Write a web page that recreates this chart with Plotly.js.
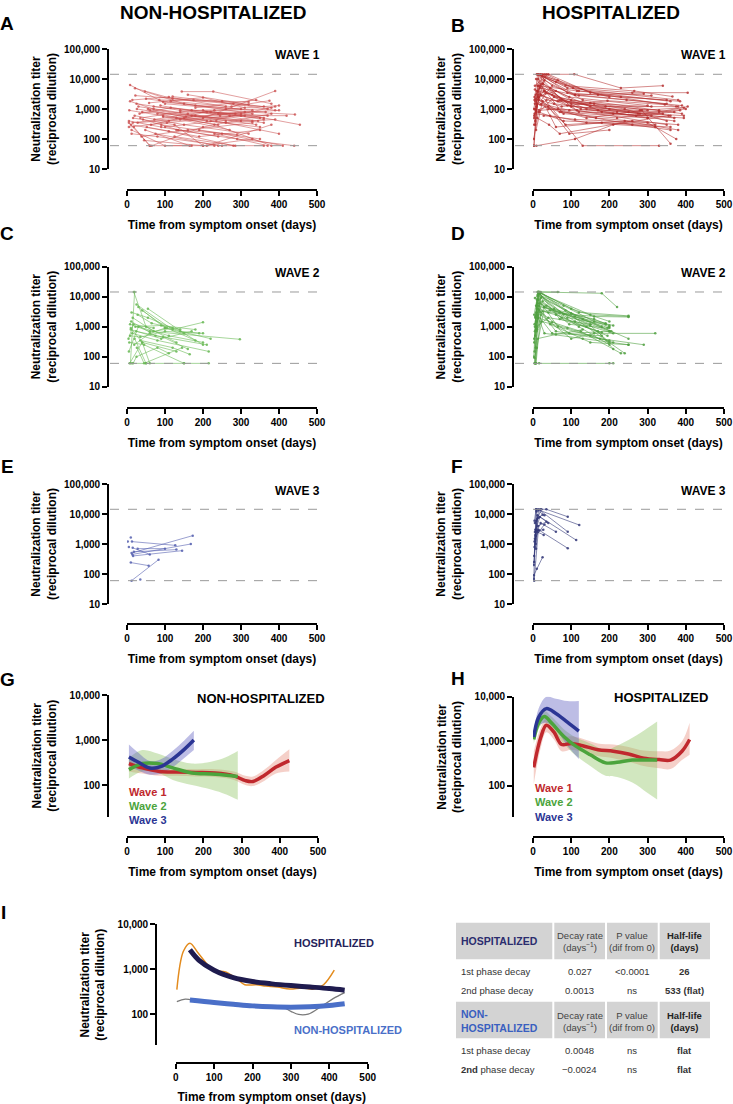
<!DOCTYPE html>
<html>
<head>
<meta charset="utf-8">
<script src="https://cdn.plot.ly/plotly-3.0.1.min.js"></script>
<style>body{margin:0;background:#fff}#graph{width:733px;height:1104px}</style>
</head>
<body>
<div id="graph"></div>
<script>
// patients : [jour, titre, jour, titre, ...]
var nonHospW1 = [
 [8,6300,95,1700,330,900],[21,4900,120,2200,360,1200],[47,3800,150,1500,330,700],[144,3800,227,3800,380,1500],
 [15,350,130,500,300,400],[10,300,110,180,280,60],[5,400,90,250,240,120],[12,200,100,60,230,60],
 [25,1500,140,900,350,500],[30,1200,160,700,340,300],[40,800,180,600,360,350],[20,600,150,300,320,150],
 [18,250,60,60,170,60],[55,1000,200,500,390,4000],[35,500,170,900,370,1000],[50,2200,180,1300,300,1000],
 [60,900,210,400,350,250],[70,1200,220,800,370,600],[80,700,230,300,380,60],[90,300,250,150,410,60],
 [100,1500,260,1000,400,1300],[110,400,270,600,420,600],[120,2600,280,1500,390,900],[130,200,290,100,440,60],
 [140,800,300,700,455,300],[150,500,310,800,442,660],[160,3000,320,1400],[170,600,330,400],
 [180,1100,340,2000],[190,200,350,100],[200,900,360,500],[210,60,380,300],[220,400,390,1200],
 [230,150,370,60],[240,700,400,900],[45,90,200,60,330,100],[65,60,200,250,380,700],[75,150,240,60,360,60],
 [85,2000,250,1800,380,1100],[95,550,260,350,390,450],[5,250,105,350,300,600],[8,1800,70,1000,260,400],
 [12,150,80,120,250,60],[28,350,140,450,270,200],[33,700,115,1100,310,600],[38,120,160,200,330,350],
 [42,450,135,200,290,140],[6,900,95,600,240,300],[22,2800,175,2000,320,1700],[52,250,190,120,350,200],
 [58,1600,200,2400,310,1100],[63,300,210,800,360,450],[16,500,125,300,200,60],[26,1000,155,550,285,700],
 [48,200,165,60],[72,450,230,900,365,800],[88,1300,245,600,345,400],[100,250,235,400,400,150],
 [115,1800,275,1200,375,1900],[125,120,285,60],[5,350,60,60],[14,2000,110,2500,260,1200]
];
var hospW1 = [
 [2,60,15,14350,110,3000,350,1500],[3,500,20,14350,90,5000,380,2000],[5,1000,25,14350,120,4000,360,1800],
 [4,2000,12,14350,60,8000,200,2500],[6,300,18,6000,100,1500,330,900],[8,800,30,14350,108,14350,230,5000,340,6000],
 [3,60,10,1500,70,800,300,500],[5,6000,40,14350,150,3500,380,1200],[7,3000,30,9000,130,2000,390,700],
 [9,1200,45,5000,95,2500,300,1300],[2,100,14,800,80,400,320,300],[10,4000,50,3000,140,1000,370,400],
 [4,2500,22,7000,115,900,350,300],[6,400,15,2500,85,300,240,400,380,200],[11,14350,75,2000,250,800,360,600],
 [13,10000,100,1200,280,900,395,1100],[3,600,35,14350,105,5000,260,3500,405,3500],[8,200,25,1800,60,250,180,350,360,250],
 [5,1500,28,4000,120,800,310,600,370,500],[12,6000,70,2000,200,1000,340,700],[15,2000,80,700,220,500,370,800],
 [20,14350,90,3500,230,2500,350,2000],[7,900,40,1200,95,150,200,200],[9,60,110,100,210,300,355,600],
 [14,3000,65,1800,190,1200,375,1200],[17,800,55,2500,150,1600,300,900],[3,300,12,4000,130,60,330,60],
 [24,12000,85,6000,265,4000,365,2600],[18,5000,120,2800,245,2000,390,1300],[10,14350,65,9000,170,3000,385,1800],
 [6,1800,33,3500,150,1200,280,700],[22,1500,95,900,210,700,395,500],[4,700,45,600,140,350,320,250],
 [8,10000,75,800,260,300,360,200],[12,2500,60,4000,180,800,300,500],[26,7000,100,2000,240,1000,350,400],
 [30,4000,125,1000,270,600,385,900],[14,14350,50,6000,110,3000,290,3200],[35,2000,160,1500,310,1200],
 [5,4500,55,1500,220,800,395,600],[16,900,65,1000,165,500,380,300],[2,1000,13,6000,115,4000,310,2800],
 [20,3000,90,1300,275,700,400,1000],[28,600,110,450,300,350,375,100],[40,1000,170,900,330,800,405,1200],
 [11,500,42,300,70,150,260,400],[19,1400,140,500,285,900,360,70],[7,2200,75,1200,195,1900,345,1400]
];
var nonHospW2 = [
 [18,14350,50,1000,130,300],[25,5500,120,800,200,1400],[30,4500,100,900,220,400],[55,4000,150,600,200,250],
 [8,1200,60,700,297,380],[10,800,90,400,170,700],[12,3000,55,2000,140,700,200,600],[15,2000,70,700,120,900],
 [5,150,30,1000,110,500,200,300],[7,60,40,300,130,150],[9,60,20,14350],[10,900,40,300,60,60],
 [14,600,80,350,215,150],[16,60,25,100,80,200,110,130],[20,400,50,60],[22,1000,90,1100,180,800],
 [6,300,45,250,150,60],[11,1500,75,500,210,250],[24,700,95,450,160,180],[28,2500,65,1300,140,800],
 [35,350,120,200,165,120],[13,60,50,60,150,60,215,60],[8,500,35,450,100,700,190,600],[19,250,60,600,100,900],
 [40,3500,105,900,180,350],[26,200,45,60,145,200],[4,400,17,1200,70,900]
];
var hospW2 = [
 [5,1000,14,14350,180,13000,220,4500],[3,300,12,14350,65,14350],[4,60,15,14350,120,3000,250,2300],
 [6,2000,16,14350,100,4000,200,1500],[8,5000,18,13000,150,2500,250,2200],[2,100,10,8000,90,2000,190,1200],
 [5,700,13,12000,80,5000,160,1500,200,1000],[7,200,20,9000,110,1500,210,600],[9,3000,22,10000,130,1800,250,400],
 [4,150,11,5000,70,3000,200,700],[6,60,17,14350,140,1000,240,130],[8,800,14,4000,60,700,200,350],
 [10,1500,25,7000,95,1200,195,900],[3,400,12,2500,50,600,180,500],[5,60,9,1000,40,2000,150,1200],
 [7,60,16,60,200,60,210,60],[12,6000,35,5000,120,1000,200,250],[15,3500,60,2500,170,700,210,180],
 [4,1200,10,3000,45,3500,160,1800,200,1100],[6,500,18,6000,75,2000,195,500],[8,1000,14,2000,30,600,130,400,250,250],
 [3,2500,12,11000,85,3500,180,1000],[11,800,28,4500,100,2800,190,1300],[13,14350,55,4000,150,1100,200,300],
 [5,9000,20,14350,110,2200,205,700],[7,60,12,400,60,550,130,800],[9,700,22,1500,90,900,175,400,290,250],
 [14,14350,70,1800,180,650],[10,4000,40,3000,160,2200,250,2100],[6,2200,15,8000,65,1000,150,500,210,300],
 [4,90,10,200,30,4500,200,900],[18,12000,80,2600,210,1100],[12,2000,50,1400,125,700,230,130],
 [8,60,20,2500,100,400,160,600,320,600],[16,5000,45,1200,150,300,250,250],[20,3000,95,600,200,700]
];
var nonHospW3 = [
 [2,1200],[10,1650],[13,1200,127,900],[15,750,60,450],[12,500,173,1900],[14,450,168,1000],
 [16,400,145,600],[18,550,130,650],[10,240,57,190],[12,60,83,300],[35,65],[28,700,100,700],[5,800]
];
var hospW3 = [
 [2,70,8,14350,35,14350,91,8100],[3,250,10,14350,121,4300],[4,800,12,9000,113,1350],[5,1500,15,14350,91,2550],
 [3,60,14,3000,91,720],[6,2000,20,5000,60,2550],[2,90,10,150,25,360],[4,6000,8,14350,30,9000],
 [5,2500,18,8000,40,5000],[7,1000,12,2500,28,2000],[3,400,9,6000,22,14350],[6,3000,16,2800],
 [8,700,11,7000,25,9500],[2,200,7,1800,30,4500],[9,12000,20,14350],[5,5000,14,7500],
 [10,2700,27,3000],[4,1200,13,4000,35,5500]
];

// G : non hospitalisés, courbes lissées + IC
var gW1days = [5,40,85,130,180,230,280,310,330,360,390,425];
var gW1mean = [300,240,200,195,190,185,160,125,120,165,250,350];
var gW1low  = [200,180,160,160,155,150,130,100,95,125,180,200];
var gW1up   = [420,320,240,230,225,225,200,160,155,220,360,620];
var gW2days = [5,40,80,120,170,220,260,290];
var gW2mean = [220,300,300,240,185,175,165,155];
var gW2low  = [140,200,190,130,100,80,62,47];
var gW2up   = [400,600,500,380,300,330,420,570];
var gW3days = [5,30,60,90,120,150,175];
var gW3mean = [420,320,240,260,380,620,1000];
var gW3low  = [260,210,170,180,250,400,600];
var gW3up   = [800,520,340,380,580,980,1600];
// H : hospitalisés
var hW1days = [2,20,35,55,75,100,130,170,210,250,290,330,360,390,410];
var hW1mean = [260,1200,2300,1600,850,900,800,650,600,520,420,390,380,600,1100];
var hW1low  = [110,700,1600,1100,600,650,580,470,420,350,280,250,240,380,500];
var hW1up   = [600,2000,3200,2300,1250,1300,1150,900,850,750,620,600,620,1000,2600];
var hW2days = [2,15,30,50,80,110,150,190,220,260,300,325];
var hW2mean = [1100,2600,3600,2500,1300,800,500,330,340,380,380,380];
var hW2low  = [900,1900,2700,1800,900,500,280,170,160,120,70,50];
var hW2up   = [1400,3500,4800,3500,1900,1250,900,650,800,1200,2000,2800];
var hW3days = [2,15,35,60,90,120];
var hW3mean = [1250,3500,5400,4200,2700,1700];
var hW3low  = [1000,2200,2600,1800,800,400];
var hW3up   = [1600,5500,10000,9000,8000,8000];
// I : ajustements
var iHospDays = [3,20,37,60,98,130,160,180,210,235,265,297,330,360,385,413];
var iHospObs  = [350,2500,3800,2200,960,870,600,450,450,420,400,360,380,360,450,950];
var iHospFitDays = [37,60,100,150,200,250,300,350,400,440];
var iHospFit  = [2700,1600,950,650,530,470,430,400,370,340];
var iNonDays  = [3,25,60,100,150,200,250,280,300,320,345,380,410,440];
var iNonObs   = [190,215,190,175,160,150,145,140,115,98,100,150,220,300];
var iNonFitDays = [37,100,150,200,250,300,350,400,440];
var iNonFit   = [205,180,165,152,145,142,145,155,170];

// tableau (lignes)
var tabRows = [
 ['<b>HOSPITALIZED</b>','Decay rate<br>(days<sup>−1</sup>)','P value<br>(dif from 0)','<b>Half-life<br>(days)</b>'],
 ['1st phase decay','0.027','&lt;0.0001','<b>26</b>'],
 ['2nd phase decay','0.0013','ns','<b>533 (flat)</b>'],
 ['<b>NON-<br>HOSPITALIZED</b>','Decay rate<br>(days<sup>−1</sup>)','P value<br>(dif from 0)','<b>Half-life<br>(days)</b>'],
 ['1st phase decay','0.0048','ns','<b>flat</b>'],
 ['<b>2nd</b> phase decay','−0.0024','ns','<b>flat</b>']
];
var tabHeaderRows = [0, 3];

var xTicks = [0,100,200,300,400,500];
var yTicks = [10,100,1000,10000,100000];
var yTickText = ['10','100','1,000','10,000','100,000'];
var LOD = [14350, 60];

var W = 733, H = 1104;
function px(x){ return x / W; }
function py(y){ return 1 - y / H; }
var FONT = 'Liberation Sans, Arial, Helvetica, sans-serif';

// géométrie des panneaux (pixels)
var L20 = Math.log10(20);
var panels = [
 {yx:108, xl:127, xr:317, yt:49, yb:169, xy:190, yr:[1,5], st:4},
 {yx:513, xl:533, xr:724, yt:49, yb:169, xy:190, yr:[1,5], st:4},
 {yx:108, xl:127, xr:317, yt:266.7, yb:386.7, xy:408, yr:[1,5], st:4},
 {yx:513, xl:533, xr:724, yt:266.7, yb:386.7, xy:408, yr:[1,5], st:4},
 {yx:108, xl:127, xr:317, yt:484, yb:604, xy:624, yr:[1,5], st:4},
 {yx:513, xl:533, xr:724, yt:484, yb:604, xy:624, yr:[1,5], st:4},
 {yx:108, xl:127, xr:318, yt:695, yb:816.5, xy:836.7, yr:[L20,4], st:9},
 {yx:513, xl:533, xr:724, yt:696.7, yb:817.2, xy:836.7, yr:[L20,4], st:9},
 {yx:156, xl:175.7, xr:367.7, yt:924.3, yb:1045.4, xy:1063.3, yr:[L20,4], st:9}
];

var layout = {
 width: W, height: H,
 margin: {l:0, r:0, t:0, b:0},
 paper_bgcolor: 'white', plot_bgcolor: 'rgba(0,0,0,0)',
 showlegend: false,
 font: {family: FONT, color: 'black'},
 shapes: [], annotations: []
};

panels.forEach(function(g, i){
 var s = i === 0 ? '' : String(i + 1);
 var small = g.yr[1] === 4;
 layout['xaxis' + s] = {
  domain: [px(g.xl), px(g.xr)], range: [0, 500], anchor: 'free', position: py(g.xy),
  showline: true, linewidth: 1.6, linecolor: 'black', ticks: 'outside', ticklen: 5, tickwidth: 1.6,
  tickcolor: 'black', tickvals: xTicks, showgrid: false, zeroline: false,
  tickfont: {family: FONT, size: 10, weight: 'bold'},
  title: {text: 'Time from symptom onset (days)', standoff: 11, font: {family: FONT, size: 12, weight: 'bold'}}
 };
 layout['yaxis' + s] = {
  domain: [py(g.yb), py(g.yt)], type: 'log', range: g.yr, anchor: 'free', position: px(g.yx),
  showline: true, linewidth: 1.6, linecolor: 'black', ticks: 'outside', ticklen: 5, tickwidth: 1.6,
  tickcolor: 'black', tickvals: small ? yTicks.slice(1, 4) : yTicks, ticktext: small ? yTickText.slice(1, 4) : yTickText,
  showgrid: false, zeroline: false,
  tickfont: {family: FONT, size: 10, weight: 'bold'},
  title: {text: 'Neutralization titer<br>(reciprocal dilution)', standoff: g.st, font: {family: FONT, size: 12, weight: 'bold'}}
 };
 if (i < 6) {
  LOD.forEach(function(v){
   layout.shapes.push({type: 'line', xref: 'paper', x0: px(g.yx + 2), x1: px(g.xr), yref: 'y' + s, y0: v, y1: v,
    line: {color: '#9a9a9a', width: 1, dash: 'dash'}});
  });
 }
});

var traces = [];
function spaghetti(list, ax, color){
 var x = [], y = [];
 list.forEach(function(p){
  for (var k = 0; k < p.length; k += 2) { x.push(p[k]); y.push(p[k + 1]); }
  x.push(null); y.push(null);
 });
 var s = ax === 1 ? '' : String(ax);
 traces.push({type: 'scatter', mode: 'lines+markers', x: x, y: y, xaxis: 'x' + s, yaxis: 'y' + s,
  connectgaps: false, line: {color: color, width: 0.7}, marker: {color: color, size: 2.5}, hoverinfo: 'skip'});
}
spaghetti(nonHospW1, 1, 'rgba(200,70,70,0.75)');
spaghetti(hospW1, 2, 'rgba(180,45,45,0.8)');
spaghetti(nonHospW2, 3, 'rgba(105,185,85,0.85)');
spaghetti(hospW2, 4, 'rgba(80,160,65,0.85)');
spaghetti(nonHospW3, 5, 'rgba(85,95,175,0.85)');
spaghetti(hospW3, 6, 'rgba(50,55,120,0.85)');

var RED = '#c0282d', GREEN = '#4ba43c', BLUE = '#2b3594';
function band(days, low, up, ax, fill){
 var s = String(ax);
 traces.push({type: 'scatter', mode: 'lines', x: days, y: low, xaxis: 'x' + s, yaxis: 'y' + s,
  line: {width: 0, shape: 'spline', color: fill}, hoverinfo: 'skip'});
 traces.push({type: 'scatter', mode: 'lines', x: days, y: up, xaxis: 'x' + s, yaxis: 'y' + s,
  fill: 'tonexty', fillcolor: fill, line: {width: 0, shape: 'spline', color: fill}, hoverinfo: 'skip'});
}
function curve(days, vals, ax, color, w){
 var s = String(ax);
 traces.push({type: 'scatter', mode: 'lines', x: days, y: vals, xaxis: 'x' + s, yaxis: 'y' + s,
  line: {width: w, shape: 'spline', smoothing: 1, color: color}, hoverinfo: 'skip'});
}
band(gW1days, gW1low, gW1up, 7, 'rgba(225,120,100,0.35)');
band(gW2days, gW2low, gW2up, 7, 'rgba(140,195,95,0.4)');
band(gW3days, gW3low, gW3up, 7, 'rgba(90,90,190,0.4)');
curve(gW1days, gW1mean, 7, RED, 3.5);
curve(gW2days, gW2mean, 7, GREEN, 3.5);
curve(gW3days, gW3mean, 7, BLUE, 3.5);
band(hW1days, hW1low, hW1up, 8, 'rgba(225,120,100,0.35)');
band(hW2days, hW2low, hW2up, 8, 'rgba(140,195,95,0.4)');
band(hW3days, hW3low, hW3up, 8, 'rgba(90,90,190,0.4)');
curve(hW1days, hW1mean, 8, RED, 3.5);
curve(hW2days, hW2mean, 8, GREEN, 3.5);
curve(hW3days, hW3mean, 8, BLUE, 3.5);

curve(iHospDays, iHospObs, 9, '#e38b1d', 1.5);
curve(iNonDays, iNonObs, 9, '#7a7a7a', 1.3);
curve(iHospFitDays, iHospFit, 9, '#1f1b4e', 5);
curve(iNonFitDays, iNonFit, 9, '#4a6fc8', 5);

// textes
function txt(t, x, y, size, opts){
 opts = opts || {};
 layout.annotations.push({text: t, xref: 'paper', yref: 'paper', x: px(x), y: py(y),
  xanchor: opts.xa || 'center', yanchor: 'middle', showarrow: false, align: opts.al || 'center',
  font: {family: FONT, size: size, weight: opts.w || 'bold', color: opts.c || 'black'}});
}

// tableau : cellules grises + textes
var GREY = '#d3d3d3';
var colL = [456, 554.3, 607, 659.7], colR = [552.3, 605, 657.7, 710];
var rowTop = [922.7, 961, 981, 1001.7, 1040, 1060], rowBot = [959.3, 981, 1000.7, 1038.3, 1060, 1079];
var rowMid = [941, 971, 990.7, 1021, 1050, 1069.3];
tabRows.forEach(function(row, r){
 var isHead = tabHeaderRows.indexOf(r) >= 0;
 row.forEach(function(cell, c){
  if (isHead) {
   layout.shapes.push({type: 'rect', xref: 'paper', yref: 'paper', x0: px(colL[c]), x1: px(colR[c]),
    y0: py(rowBot[r]), y1: py(rowTop[r]), fillcolor: GREY, line: {width: 0}, layer: 'below'});
  }
  var color = '#333', size = 9.5;
  if (isHead && c === 0) { color = r === 0 ? '#2b2d6e' : '#3a5fc0'; size = 10.5; }
  else if (isHead) { color = c === 3 ? '#222' : '#444'; }
  if (c === 0) txt(cell, colL[c] + 2.5, rowMid[r], size, {xa: 'left', al: 'left', w: 'normal', c: color});
  else txt(cell, (colL[c] + colR[c]) / 2, rowMid[r], size, {w: 'normal', c: color});
 });
});

txt('NON-HOSPITALIZED', 213, 12, 19);
txt('HOSPITALIZED', 611, 12, 19);
[['A',7,24],['B',458,25],['C',7,233],['D',458,233],['E',7,466],['F',457,466],['G',7,679],['H',458,678],['I',3,912]]
 .forEach(function(l){ txt(l[0], l[1], l[2], 19); });
[['WAVE 1',55],['WAVE 2',273],['WAVE 3',491]].forEach(function(w){
 txt(w[0], 322, w[1], 12, {xa: 'right'});
 txt(w[0], 728, w[1], 12, {xa: 'right'});
});
txt('NON-HOSPITALIZED', 261, 698, 13);
txt('HOSPITALIZED', 661, 697, 13);
var legCols = [RED, GREEN, BLUE];
['Wave 1','Wave 2','Wave 3'].forEach(function(t, k){
 txt(t, 127, 792 + k * 14, 11, {xa: 'left', c: legCols[k]});
 txt(t, 533, 788 + k * 14.3, 11, {xa: 'left', c: legCols[k]});
});
txt('HOSPITALIZED', 334, 943, 11, {c: '#25235a'});
txt('NON-HOSPITALIZED', 348, 1030, 11, {c: '#4a6fc8'});

Plotly.newPlot('graph', traces, layout, {displayModeBar: false, responsive: false});
</script>
</body>
</html>
